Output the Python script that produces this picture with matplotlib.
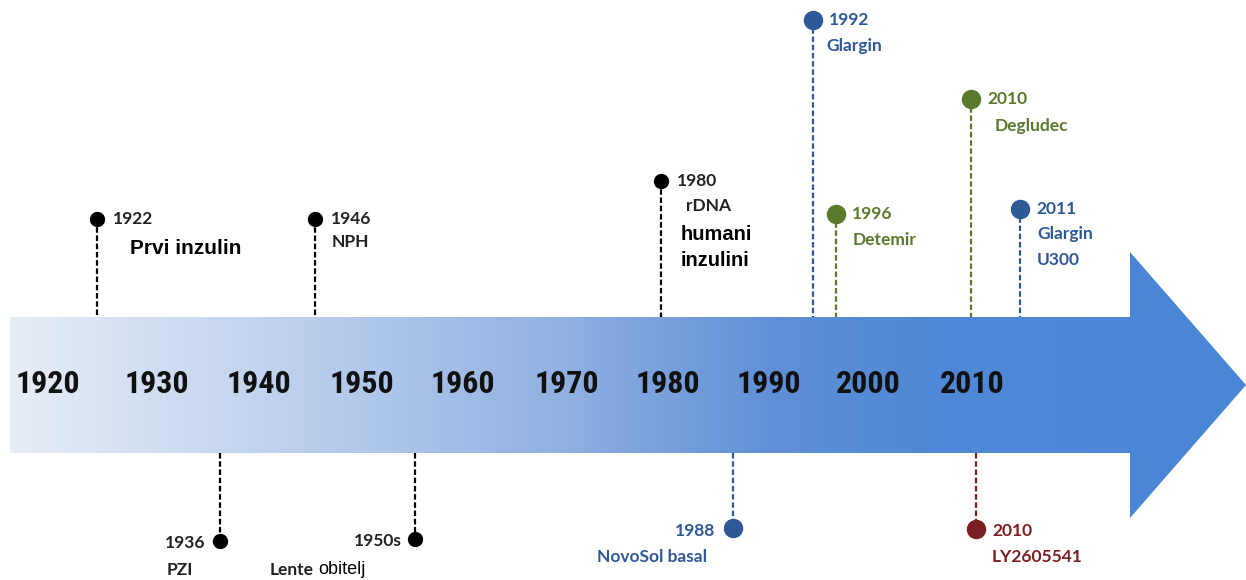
import numpy as np
import matplotlib
matplotlib.use("Agg")
import matplotlib.pyplot as plt
from matplotlib.patches import Polygon
from matplotlib.colors import LinearSegmentedColormap
from matplotlib import font_manager

# decade ticks on the arrow
decades = ["1920", "1930", "1940", "1950", "1960", "1970", "1980", "1990", "2000", "2010"]
decade_x = [48, 157, 259, 362, 463, 567, 668, 769, 868, 972]

# events: year label, name lines, colour, above/below
ev_year = ["1922", "1946", "1980", "1992", "1996", "2010", "2011",
           "1936", "1950s", "1988", "2010"]
ev_name = [["Prvi inzulin"], ["NPH"], ["rDNA", "humani", "inzulini"], ["Glargin"],
           ["Detemir"], ["Degludec"], ["Glargin", "U300"],
           ["PZI"], ["Lente", "obitelj"], ["NovoSol basal"], ["LY2605541"]]
ev_col = ["black", "black", "black", "#2f5897", "#5b7a2c", "#5b7a2c", "#2f5897",
          "black", "black", "#2f5897", "#7b1f22"]
ev_side = ["up"] * 7 + ["down"] * 4

# layout (pixels)
ev_x = [97, 315, 661, 813, 836, 971, 1020, 220, 415, 733, 976]
ev_dot_y = [219, 219, 181, 20, 214, 99, 209, 541, 539, 528, 529]
body_top, body_bot = 317, 453

names = {f.name for f in font_manager.fontManager.ttflist}
cond = [n for n in ["Liberation Sans Narrow", "DejaVu Sans Condensed", "Roboto Condensed"] if n in names]

W, H = 1246, 580
fig = plt.figure(figsize=(W / 100, H / 100), dpi=100)
ax = fig.add_axes([0, 0, 1, 1])
ax.set_xlim(0, W)
ax.set_ylim(H, 0)
ax.axis("off")

# arrow with gradient
arrow = [(10, body_top), (1130, body_top), (1130, 252), (1246, 385),
         (1130, 518), (1130, body_bot), (10, body_bot)]
poly = Polygon(arrow, closed=True, facecolor="none", edgecolor="none")
ax.add_patch(poly)
cmap = LinearSegmentedColormap.from_list(
    "arr", [(0, "#e6edf7"), (0.25, "#b8cdec"), (0.45, "#8fb0e1"),
            (0.62, "#5f8fd6"), (0.75, "#4f88d6"), (1, "#4a86d6")])
grad = np.linspace(0, 1, 512).reshape(1, -1)
im = ax.imshow(grad, extent=(10, 1246, 518, 252), cmap=cmap, aspect="auto", zorder=1)
im.set_clip_path(poly)

for lab, x in zip(decades, decade_x):
    ax.text(x, 384, lab, ha="center", va="center", fontsize=23, fontweight="bold",
            family=cond + ["DejaVu Sans"], fontstretch="condensed",
            color="#111111", zorder=3)

lf = ["Lato", "DejaVu Sans"]
af = ["Liberation Sans", "DejaVu Sans"]
fs = 12.5
for i in range(len(ev_x)):
    x, y, c = ev_x[i], ev_dot_y[i], ev_col[i]
    ms = 10 if c == "black" else 13
    if ev_side[i] == "up":
        ax.plot([x, x], [y, body_top], ls=(0, (2.5, 1.2)), color=c, lw=1.6, zorder=2)
    else:
        ax.plot([x, x], [body_bot, y], ls=(0, (2.5, 1.2)), color=c, lw=1.6, zorder=2)
    ax.plot(x, y, "o", ms=ms, color=c, mec=c, zorder=4)
    tc = "#222222" if c == "black" else c
    if ev_side[i] == "up":
        ax.text(x + 16, y, ev_year[i], ha="left", va="center", fontsize=fs,
                fontweight="bold", family=lf, color=tc)

# names above
ax.text(130, 248, "Prvi inzulin", ha="left", va="center", fontsize=15,
        fontweight="bold", family=af, color="black")
ax.text(332, 242, ev_name[1][0], ha="left", va="center", fontsize=fs,
        fontweight="bold", family=lf, color="#222222")
ax.text(686, 206, ev_name[2][0], ha="left", va="center", fontsize=fs,
        fontweight="bold", family=lf, color="#222222")
ax.text(681, 234, ev_name[2][1], ha="left", va="center", fontsize=14.5,
        fontweight="bold", family=af, color="black")
ax.text(681, 260, ev_name[2][2], ha="left", va="center", fontsize=14.5,
        fontweight="bold", family=af, color="black")
ax.text(826, 46, ev_name[3][0], ha="left", va="center", fontsize=fs,
        fontweight="bold", family=lf, color=ev_col[3])
ax.text(853, 240, ev_name[4][0], ha="left", va="center", fontsize=fs,
        fontweight="bold", family=lf, color=ev_col[4])
ax.text(995, 126, ev_name[5][0], ha="left", va="center", fontsize=fs,
        fontweight="bold", family=lf, color=ev_col[5])
ax.text(1037, 234, ev_name[6][0], ha="left", va="center", fontsize=fs,
        fontweight="bold", family=lf, color=ev_col[6])
ax.text(1037, 260, ev_name[6][1], ha="left", va="center", fontsize=fs,
        fontweight="bold", family=lf, color=ev_col[6])

# below labels
ax.text(205, 543, ev_year[7], ha="right", va="center", fontsize=fs,
        fontweight="bold", family=lf, color="#222222")
ax.text(180, 570, ev_name[7][0], ha="center", va="center", fontsize=fs,
        fontweight="bold", family=lf, color="#222222")
ax.text(402, 541, ev_year[8], ha="right", va="center", fontsize=fs,
        fontweight="bold", family=lf, color="#222222")
ax.text(314, 570, ev_name[8][0], ha="right", va="center", fontsize=fs,
        fontweight="bold", family=lf, color="#222222")
ax.text(318, 570, ev_name[8][1], ha="left", va="center", fontsize=13,
        family=af, color="black")
ax.text(715, 531, ev_year[9], ha="right", va="center", fontsize=fs,
        fontweight="bold", family=lf, color=ev_col[9])
ax.text(652, 557, ev_name[9][0], ha="center", va="center", fontsize=fs,
        fontweight="bold", family=lf, color=ev_col[9])
ax.text(992, 531, ev_year[10], ha="left", va="center", fontsize=fs,
        fontweight="bold", family=lf, color=ev_col[10])
ax.text(992, 557, ev_name[10][0], ha="left", va="center", fontsize=fs,
        fontweight="bold", family=lf, color=ev_col[10])

fig.savefig("out.png", dpi=100, facecolor="white")
